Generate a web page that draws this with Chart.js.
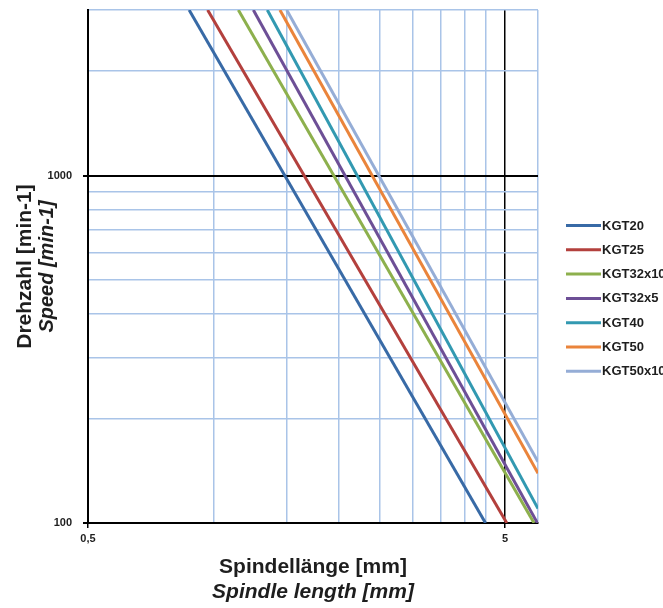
<!DOCTYPE html>
<html>
<head>
<meta charset="utf-8">
<script src="https://cdn.jsdelivr.net/npm/chart.js@4.4.1/dist/chart.umd.min.js"></script>
<style>
  body { margin: 0; background: #fff; }
</style>
</head>
<body>
<canvas id="drehzahlChart" width="663" height="608"></canvas>
<script>
// Daten: Spindellänge [mm] (x) und Drehzahl [min-1] (y), Endpunkte jeder Geraden
const serien = ['KGT20', 'KGT25', 'KGT32x10', 'KGT32x5', 'KGT40', 'KGT50', 'KGT50x10'];
const farben = ['#386aa6', '#b3403d', '#8db04d', '#6d4f96', '#3299b1', '#ea843b', '#95add6'];

const laengeKGT20 = [0.874, 4.49];
const drehzahlKGT20 = [3000, 100];
const laengeKGT25 = [0.968, 5.05];
const drehzahlKGT25 = [3000, 100];
const laengeKGT32x10 = [1.147, 5.87];
const drehzahlKGT32x10 = [3000, 100];
const laengeKGT32x5 = [1.246, 5.98];
const drehzahlKGT32x5 = [3000, 100];
const laengeKGT40 = [1.346, 6];
const drehzahlKGT40 = [3000, 110];
const laengeKGT50 = [1.443, 6];
const drehzahlKGT50 = [3000, 139];
const laengeKGT50x10 = [1.498, 6];
const drehzahlKGT50x10 = [3000, 150];

const laengen = [laengeKGT20, laengeKGT25, laengeKGT32x10, laengeKGT32x5, laengeKGT40, laengeKGT50, laengeKGT50x10];
const drehzahlen = [drehzahlKGT20, drehzahlKGT25, drehzahlKGT32x10, drehzahlKGT32x5, drehzahlKGT40, drehzahlKGT50, drehzahlKGT50x10];

// Achsenteilung
const xTicks = [0.5, 1, 1.5, 2, 2.5, 3, 3.5, 4, 4.5, 5, 6];
const xBeschriftet = [0.5, 5];
const yTicks = [100, 200, 300, 400, 500, 600, 700, 800, 900, 1000, 2000, 3000];
const yBeschriftet = [100, 1000];

const gitterBlau = '#a9c4e8';
const textFarbe = '#1e1e1e';
const schrift = '"Liberation Sans", Arial, sans-serif';

const datasets = serien.map((name, i) => ({
    label: name,
    data: laengen[i].map((x, j) => ({ x: x, y: drehzahlen[i][j] })),
    borderColor: farben[i],
    backgroundColor: farben[i],
    borderWidth: 3,
    pointRadius: 0,
    tension: 0
}));

// Achsentitel und Legende selbst zeichnen
const beschriftungPlugin = {
    id: 'beschriftung',
    afterDraw(chart) {
        const c = chart.ctx;
        const area = chart.chartArea;
        const mitteX = (area.left + area.right) / 2;
        const mitteY = (area.top + area.bottom) / 2;
        c.save();
        c.fillStyle = textFarbe;
        c.textAlign = 'center';
        c.textBaseline = 'middle';

        c.font = 'bold 21px ' + schrift;
        c.fillText('Spindellänge [mm]', mitteX, 567);
        c.font = 'italic bold 21px ' + schrift;
        c.fillText('Spindle length [mm]', mitteX, 592);

        c.save();
        c.translate(25, mitteY);
        c.rotate(-Math.PI / 2);
        c.font = 'bold 21px ' + schrift;
        c.fillText('Drehzahl [min-1]', 0, 0);
        c.restore();
        c.save();
        c.translate(47, mitteY);
        c.rotate(-Math.PI / 2);
        c.font = 'italic bold 20px ' + schrift;
        c.fillText('Speed [min-1]', 0, 0);
        c.restore();

        // Legende rechts (wird am Rand abgeschnitten wie im Original)
        c.textAlign = 'left';
        c.font = 'bold 13px ' + schrift;
        chart.data.datasets.forEach((ds, i) => {
            const y = 225.5 + i * 24.3;
            c.strokeStyle = ds.borderColor;
            c.lineWidth = 3;
            c.beginPath();
            c.moveTo(566, y);
            c.lineTo(601, y);
            c.stroke();
            c.fillStyle = textFarbe;
            c.fillText(ds.label, 602, y + 0.5);
        });
        c.restore();
    }
};

new Chart(document.getElementById('drehzahlChart').getContext('2d'), {
    type: 'line',
    data: { datasets: datasets },
    options: {
        responsive: false,
        animation: false,
        layout: { padding: { left: 0, right: 125, top: 10, bottom: 0 } },
        plugins: {
            legend: { display: false },
            tooltip: { enabled: false }
        },
        scales: {
            x: {
                type: 'logarithmic',
                min: 0.5,
                max: 6,
                afterBuildTicks: scale => { scale.ticks = xTicks.map(v => ({ value: v })); },
                afterFit: scale => {
                    scale.height = 85;
                    scale.paddingLeft = 0;
                    scale.paddingRight = 0;
                },
                ticks: {
                    autoSkip: false,
                    maxRotation: 0,
                    padding: 4,
                    color: textFarbe,
                    font: { family: schrift, size: 11, weight: 'bold' },
                    callback: v => xBeschriftet.includes(v) ? String(v).replace('.', ',') : ''
                },
                grid: {
                    color: ctx => xBeschriftet.includes(ctx.tick.value) ? '#000' : gitterBlau,
                    lineWidth: 1.5,
                    tickColor: ctx => xBeschriftet.includes(ctx.tick.value) ? '#000' : 'rgba(0,0,0,0)',
                    tickLength: 5
                },
                border: { display: true, color: '#000', width: 2 }
            },
            y: {
                type: 'logarithmic',
                min: 100,
                max: 3000,
                afterBuildTicks: scale => { scale.ticks = yTicks.map(v => ({ value: v })); },
                afterFit: scale => {
                    scale.width = 88;
                    scale.paddingTop = 0;
                    scale.paddingBottom = 0;
                },
                ticks: {
                    autoSkip: false,
                    padding: 11,
                    color: textFarbe,
                    font: { family: schrift, size: 11, weight: 'bold' },
                    callback: v => yBeschriftet.includes(v) ? String(v) : ''
                },
                grid: {
                    color: ctx => yBeschriftet.includes(ctx.tick.value) ? '#000' : gitterBlau,
                    lineWidth: ctx => yBeschriftet.includes(ctx.tick.value) ? 2 : 1.5,
                    tickColor: ctx => yBeschriftet.includes(ctx.tick.value) ? '#000' : 'rgba(0,0,0,0)',
                    tickLength: 5
                },
                border: { display: true, color: '#000', width: 2 }
            }
        }
    },
    plugins: [beschriftungPlugin]
});
</script>
</body>
</html>
